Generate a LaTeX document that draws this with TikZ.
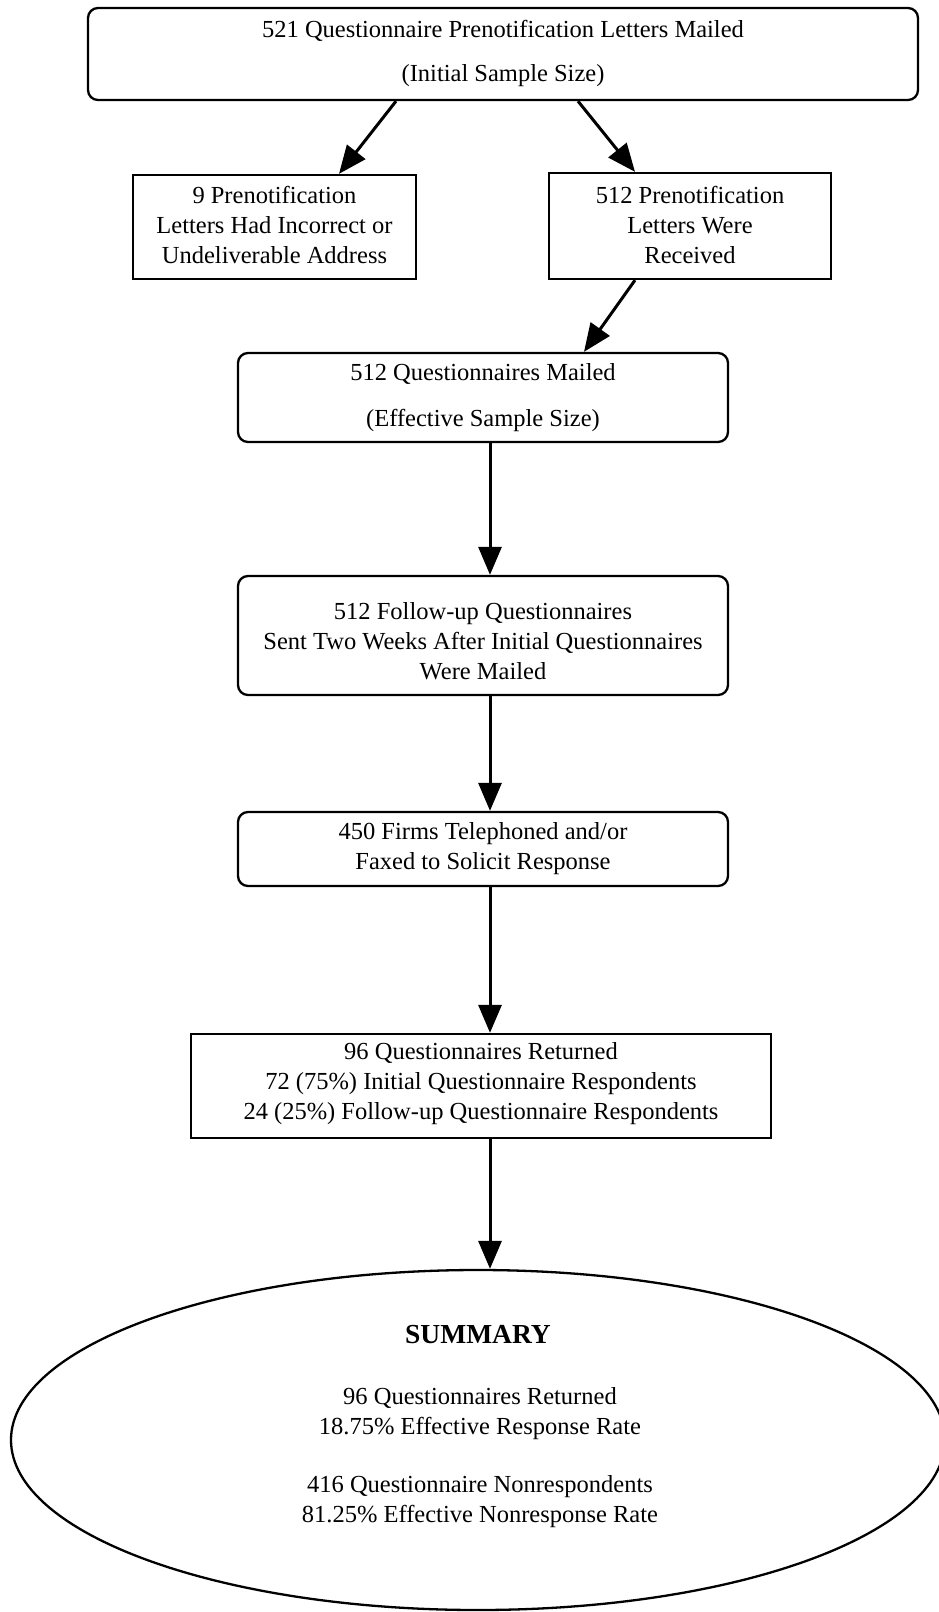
\documentclass[tikz,border=0pt]{standalone}
\usepackage{fontspec}
\setmainfont{Liberation Serif}
\usetikzlibrary{arrows.meta,shapes.geometric}
\tikzset{
  txt/.style={font=\fontsize{24.5pt}{30pt}\selectfont, align=center, inner sep=0pt},
  rbox/.style={draw, line width=2.3pt, rounded corners=10pt},
  sbox/.style={draw, line width=2.3pt},
  arr/.style={line width=3pt, -{Triangle[length=28pt,width=23pt]}}
}
\begin{document}
\begin{tikzpicture}[x=1pt,y=-1pt]
\useasboundingbox (0,0) rectangle (938,1612);
% boxes
\node[rbox, minimum width=830pt, minimum height=92pt] (top) at (503,54) {};
\node[txt] (toptxt) at (503,53) {521 Questionnaire Prenotification Letters Mailed\\[14pt](Initial Sample Size)};
\node[sbox, minimum width=283pt, minimum height=104pt] (left) at (274.5,227) {};
\node[txt] (lefttxt) at (274.5,225) {9 Prenotification\\Letters Had Incorrect or\\Undeliverable Address};
\node[sbox, minimum width=282pt, minimum height=106pt] (right) at (690,226) {};
\node[txt] (righttxt) at (690,225) {512 Prenotification\\Letters Were\\Received};
\node[rbox, minimum width=490pt, minimum height=89pt] (mailed) at (483,397.5) {};
\node[txt] (mailedtxt) at (483,398) {512 Questionnaires Mailed\\[16pt](Effective Sample Size)};
\node[rbox, minimum width=490pt, minimum height=119pt] (follow) at (483,635.5) {};
\node[txt] (followtxt) at (483,641) {512 Follow-up Questionnaires\\Sent Two Weeks After Initial Questionnaires\\Were Mailed};
\node[rbox, minimum width=490pt, minimum height=74pt] (phone) at (483,849) {};
\node[txt] (phonetxt) at (483,849) {450 Firms Telephoned and/or\\Faxed to Solicit Response};
\node[sbox, minimum width=580pt, minimum height=104pt] (ret) at (481,1086) {};
\node[txt] (rettxt) at (481,1084) {96 Questionnaires Returned\\72 (75\%) Initial Questionnaire Respondents\\24 (25\%) Follow-up Questionnaire Respondents};
\node[ellipse, draw, line width=2.3pt, minimum width=934pt, minimum height=340pt, inner sep=0pt] (sum) at (478,1440) {};
\node[font=\fontsize{27.5pt}{30pt}\selectfont\bfseries, inner sep=0pt] (sumtitle) at (478,1335) {SUMMARY};
\node[txt] (sumtxt) at (480,1458) {96 Questionnaires Returned\\18.75\% Effective Response Rate\\[28pt]416 Questionnaire Nonrespondents\\81.25\% Effective Nonresponse Rate};
% arrows
\draw[arr] (top.south -| 396,0) -- (left.north -| 339,0);
\draw[arr] (top.south -| 578,0) -- (right.north -| 635,0);
\draw[arr] (right.south -| 635,0) -- (mailed.north -| 584,0);
\draw[arr] (mailed.south -| 490,0) -- (follow.north -| 490,0);
\draw[arr] (follow.south -| 490,0) -- (phone.north -| 490,0);
\draw[arr] (phone.south -| 490,0) -- (ret.north -| 490,0);
\draw[arr] (ret.south -| 490,0) -- (sum.north -| 490,0);
\end{tikzpicture}
\end{document}
